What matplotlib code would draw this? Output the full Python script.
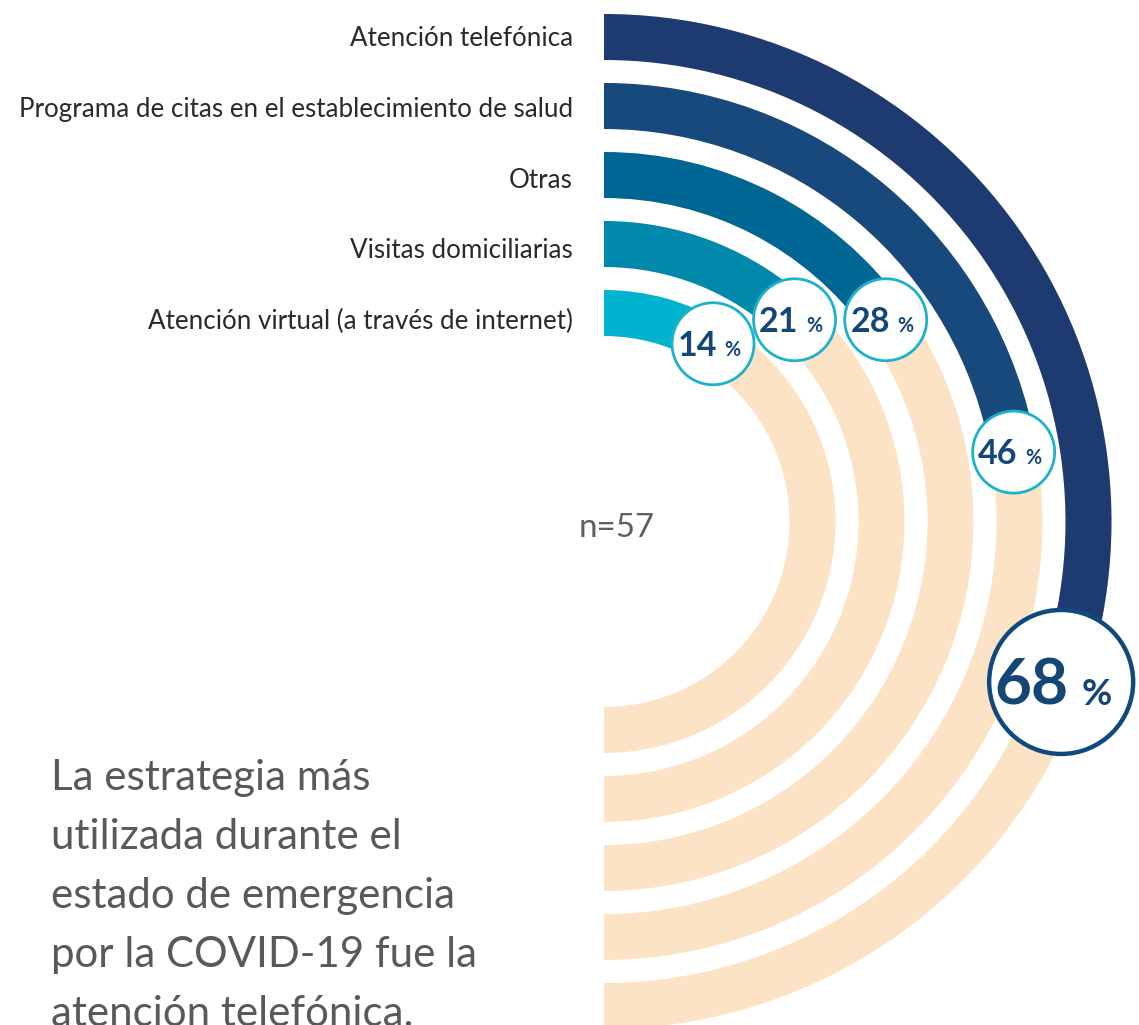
import numpy as np
import matplotlib.pyplot as plt
from matplotlib.patches import Wedge, Circle

# data
categories = ["Atención telefónica",
              "Programa de citas en el establecimiento de salud",
              "Otras",
              "Visitas domiciliarias",
              "Atención virtual (a través de internet)"]
values = [68, 46, 28, 21, 14]
bar_colors = ["#1d3a71", "#17497c", "#006794", "#0088ad", "#00b4d0"]
track_color = "#fde3c6"
sample_note = "n=57"
headline = ["La estrategia más",
            "utilizada durante el",
            "estado de emergencia",
            "por la COVID-19 fue la",
            "atención telefónica."]

W, H = 1139, 1025
fig = plt.figure(figsize=(W / 100, H / 100), dpi=100)
ax = fig.add_axes([0, 0, 1, 1])
ax.set_xlim(0, W)
ax.set_ylim(H, 0)
ax.set_aspect("equal")
ax.axis("off")

cx, cy = 604, 521.5
r_outer, ring_w, ring_step = 507.5, 46, 69


def sweep(v):
    # the original uses a compressed angular scale (degrees clockwise from 12 o'clock)
    return 3.95 * v ** 0.787


def pt(px):
    return px * 0.72


for i, (cat, v, col) in enumerate(zip(categories, values, bar_colors)):
    r = r_outer - i * ring_step
    rm = r - ring_w / 2
    # background track: half circle on the right side
    ax.add_patch(Wedge((cx, cy), r, -90, 90, width=ring_w, color=track_color, lw=0))
    a = sweep(v)
    ax.add_patch(Wedge((cx, cy), r, -90, a - 90, width=ring_w, color=col, lw=0))

    ax.text(cx - 31, cy - rm + 2 + i * 1.5, cat, ha="right", va="center",
            fontsize=pt(26), family="Lato", color="#2a2a2a")

    # value bubble at the end of the arc
    th = np.deg2rad(a)
    bx, by = cx + rm * np.sin(th), cy - rm * np.cos(th)
    big = i == 0
    br = 72 if big else 41
    ax.add_patch(Circle((bx, by), br, facecolor="white",
                        edgecolor="#0e4a7e" if big else "#1cb2ce",
                        lw=3.2 if big else 2.0, zorder=5))
    num_px = 64 if big else 34
    ax.text(bx + 0.10 * br, by + num_px * 0.36, str(v), ha="right", va="baseline",
            fontsize=pt(num_px), family="Lato", fontweight="bold",
            color="#154678", zorder=6)
    ax.text(bx + 0.28 * br, by + num_px * 0.36, "%", ha="left", va="baseline",
            fontsize=pt(num_px * 0.58), family="Lato", fontweight="bold",
            color="#154678", zorder=6)

ax.text(617, 528, sample_note, ha="center", va="center", fontsize=pt(33),
        family="Lato", color="#5f5f5f")

for k, line in enumerate(headline):
    ax.text(51, 790 + 59 * k, line, ha="left", va="baseline", fontsize=pt(42),
            family="Lato", color="#595959")

fig.savefig("out.png", dpi=100)
